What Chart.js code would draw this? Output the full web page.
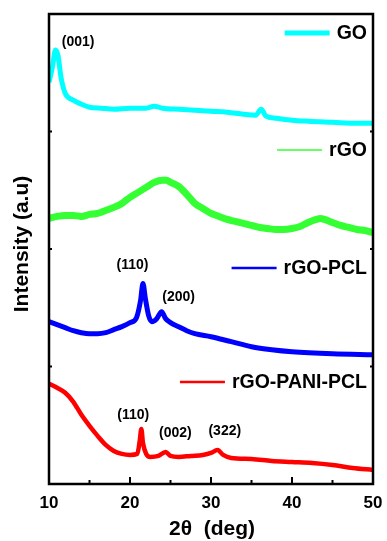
<!DOCTYPE html>
<html>
<head>
<meta charset="utf-8">
<script src="https://cdn.jsdelivr.net/npm/chart.js@4/dist/chart.umd.min.js"></script>
<style>
  html, body { margin: 0; padding: 0; background: #fff; }
  #wrap { width: 387px; height: 541px; }
</style>
</head>
<body>
<div id="wrap"><canvas id="grafico" width="387" height="541"></canvas></div>
<script>
// 2theta (deg) and intensity (a.u., offset stacked)
const goX   = [10.0, 10.4, 10.8, 11.1, 11.5, 12.0, 13.0, 14.0, 15.0, 16.5, 18.0, 20.0, 22.0, 23.0, 24.0, 26.0, 28.0, 30.0, 32.0, 34.0, 35.5, 36.2, 36.8, 38.0, 40.0, 42.0, 45.0, 48.0, 50.0];
const goY   = [401, 415, 433, 428, 405, 390, 383, 379, 376, 375, 374, 375, 375, 377, 375, 374, 373, 372, 371, 369, 368, 374, 367, 365, 363, 362, 361, 360, 360];

const rgoX  = [10, 11, 12, 13, 14, 15, 16, 17, 18, 19, 20, 21, 22, 23, 24, 24.5, 25, 26, 27, 28, 29, 30, 31, 32, 33, 34, 35, 36, 37, 38, 39, 40, 41, 42, 43, 43.5, 44, 45, 46, 47, 48, 49, 50];
const rgoY  = [265, 267, 268, 268, 267, 269, 270, 273, 276, 280, 286, 291, 296, 301, 303, 303, 301, 297, 289, 280, 275, 270, 267, 264, 262, 260, 258, 256, 255, 254, 254, 255, 257, 261, 264, 265, 264, 261, 258, 256, 254, 253, 251];

const pclX  = [10, 11, 12, 13, 14, 15, 16, 17, 18, 19, 20, 20.8, 21.3, 21.6, 21.9, 22.3, 22.7, 23.3, 23.9, 24.4, 25, 26, 27, 28, 30, 32.5, 35, 37.5, 40, 45, 50];
const pclY  = [162, 159, 156, 153, 151, 150, 150, 151, 154, 157, 161, 166, 183, 200, 185, 168, 162, 165, 172, 165, 161, 157, 153, 150, 147, 142, 137, 134, 132, 130, 129];

const paniX = [10, 11, 12, 13, 14, 15, 16, 17, 18, 19, 20, 20.9, 21.2, 21.4, 21.6, 22, 22.5, 23.5, 24.4, 25, 26, 27.5, 29, 30, 30.8, 31.5, 32.5, 35, 37.5, 40, 42.5, 45, 47.5, 50];
const paniY = [100, 96, 91, 82, 69, 58, 48, 39, 33, 30, 29, 30, 43, 55, 41, 30, 27, 28, 32, 28, 27, 28, 29, 31, 34, 29, 26, 25, 23, 22, 21, 19, 16, 14];

const seriesNames = ["GO", "rGO", "rGO-PCL", "rGO-PANI-PCL"];
const seriesColors = ["#00ffff", "#33ff33", "#0000ff", "#ff0000"];

const tickLabels = [10, 20, 30, 40, 50];
const minorTicks = [15, 25, 35, 45];

// peak labels: [text, 2theta, intensity]
const peakLabels = [
  ["(001)", 13.6, 441],
  ["(110)", 20.3, 218],
  ["(200)", 26.0, 186],
  ["(110)", 20.4, 69],
  ["(002)", 25.6, 51],
  ["(322)", 31.7, 53]
];

const FONT = "'Liberation Sans', Arial, sans-serif";

function pares(xs, ys) {
  return xs.map((x, i) => ({ x: x, y: ys[i] }));
}

const desenho = {
  id: 'desenho',
  afterDatasetsDraw(chart) {
    const ctx = chart.ctx;
    const a = chart.chartArea;
    const sx = chart.scales.x;
    const sy = chart.scales.y;
    ctx.save();

    // caixa
    ctx.strokeStyle = '#000';
    ctx.lineWidth = 2.5;
    ctx.strokeRect(a.left, a.top, a.right - a.left, a.bottom - a.top);

    // ticks para dentro
    ctx.lineWidth = 2;
    tickLabels.forEach(v => {
      const px = sx.getPixelForValue(v);
      ctx.beginPath(); ctx.moveTo(px, a.bottom); ctx.lineTo(px, a.bottom - 7); ctx.stroke();
    });
    minorTicks.forEach(v => {
      const px = sx.getPixelForValue(v);
      ctx.beginPath(); ctx.moveTo(px, a.bottom); ctx.lineTo(px, a.bottom - 4); ctx.stroke();
    });
    for (let i = 1; i < 4; i++) {
      const py = sy.getPixelForValue(sy.min + i * (sy.max - sy.min) / 4);
      ctx.beginPath(); ctx.moveTo(a.left, py); ctx.lineTo(a.left + 3, py); ctx.stroke();
      ctx.beginPath(); ctx.moveTo(a.right, py); ctx.lineTo(a.right - 3, py); ctx.stroke();
    }

    // rótulos do eixo x
    ctx.fillStyle = '#000';
    ctx.font = 'bold 17px ' + FONT;
    ctx.textAlign = 'center';
    ctx.textBaseline = 'middle';
    tickLabels.forEach(v => ctx.fillText(String(v), sx.getPixelForValue(v), 503));

    // títulos
    ctx.font = 'bold 21px ' + FONT;
    ctx.fillText('2\u03b8  (deg)', 212, 529);
    ctx.save();
    ctx.translate(22, 244);
    ctx.rotate(-Math.PI / 2);
    ctx.font = 'bold 21px ' + FONT;
    ctx.fillText('Intensity (a.u)', 0, 0);
    ctx.restore();

    // picos
    ctx.font = 'bold 14px ' + FONT;
    peakLabels.forEach(p => {
      ctx.fillText(p[0], sx.getPixelForValue(p[1]), sy.getPixelForValue(p[2]));
    });

    // legenda
    const legY = [33, 150, 268, 382];
    const legW = [5, 1.5, 2.5, 2.5];
    ctx.font = 'bold 19.5px ' + FONT;
    ctx.textAlign = 'right';
    seriesNames.forEach((nome, i) => {
      const tx = 367;
      const w = ctx.measureText(nome).width;
      const x2 = tx - w - 7;
      ctx.strokeStyle = seriesColors[i];
      ctx.lineWidth = legW[i];
      ctx.beginPath(); ctx.moveTo(x2 - 45, legY[i]); ctx.lineTo(x2, legY[i]); ctx.stroke();
      ctx.fillText(nome, tx, legY[i] + 1);
    });
    ctx.restore();
  }
};

const ctx = document.getElementById('grafico').getContext('2d');
const grafico = new Chart(ctx, {
  type: 'line',
  data: {
    datasets: [
      { label: seriesNames[0], data: pares(goX, goY), borderColor: seriesColors[0], borderWidth: 5 },
      { label: seriesNames[1], data: pares(rgoX, rgoY), borderColor: seriesColors[1], borderWidth: 7 },
      { label: seriesNames[2], data: pares(pclX, pclY), borderColor: seriesColors[2], borderWidth: 5 },
      { label: seriesNames[3], data: pares(paniX, paniY), borderColor: seriesColors[3], borderWidth: 4.5 }
    ]
  },
  options: {
    responsive: false,
    animation: false,
    devicePixelRatio: 1,
    layout: { padding: { left: 0, right: 14, top: 14, bottom: 0 } },
    elements: {
      point: { radius: 0 },
      line: { cubicInterpolationMode: 'monotone', borderJoinStyle: 'round', borderCapStyle: 'butt' }
    },
    plugins: { legend: { display: false }, tooltip: { enabled: false } },
    scales: {
      x: {
        type: 'linear', min: 10, max: 50,
        grid: { display: false }, border: { display: false },
        ticks: { display: false },
        afterFit: s => { s.height = 57; }
      },
      y: {
        min: 0, max: 469,
        grid: { display: false }, border: { display: false },
        ticks: { display: false },
        afterFit: s => { s.width = 49; }
      }
    }
  },
  plugins: [desenho]
});
</script>
</body>
</html>
